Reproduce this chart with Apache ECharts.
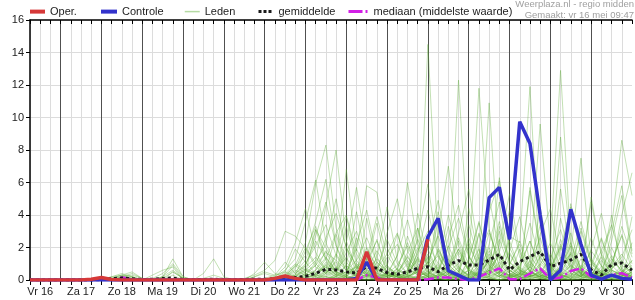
<!DOCTYPE html>
<html><head><meta charset="utf-8">
<script src="https://cdn.jsdelivr.net/npm/echarts@6/dist/echarts.min.js"></script>
<style>html,body{margin:0;padding:0;background:#fff}#c{width:635px;height:300px}</style>
</head><body><div id="c"></div>
<script>
// time steps: hours since Vr 16 00:00
const hours=[6,12,18,24,30,36,42,48,54,60,66,72,78,84,90,96,102,108,114,120,126,132,138,144,150,156,162,168,174,180,186,192,198,204,210,216,222,228,234,240,246,252,258,264,270,276,282,288,294,300,306,312,318,324,330,336,342,348,354,360];
const dayLabels=['Vr 16','Za 17','Zo 18','Ma 19','Di 20','Wo 21','Do 22','Vr 23','Za 24','Zo 25','Ma 26','Di 27','Wo 28','Do 29','Vr 30'];
const yTicks=[0,2,4,6,8,10,12,14,16];

const oper=[0,0,0,0,0,0,0.05,0.15,0.03,0,0,0, 0,0,0,0,0,0,0,0,0,0,0,0, 0.1,0.25,0.1,0,0,0,0,0,0,1.74,0,0, 0,0,0,2.5];
const controle=[0,0,0,0,0,0,0,0,0,0,0,0, 0,0,0,0,0,0,0,0,0,0,0,0, 0,0,0,0,0,0,0,0,0.1,1.1,0,0, 0,0,0,2.66,3.8,0.57,0.29,0,0,5.07,5.7,2.5, 9.74,8.4,4.0,0,0.6,4.35,2.2,0.3,0.05,0.3,0.1,0.05];
const gemiddelde=[0,0,0,0,0,0,0,0.02,0.08,0.12,0.08,0.02, 0.05,0.1,0.12,0.03,0.02,0.03,0.05,0.02,0.02,0.03,0.05,0.04, 0.08,0.15,0.15,0.22,0.41,0.66,0.62,0.5,0.42,0.82,0.72,0.45, 0.35,0.5,0.72,0.82,0.5,0.92,1.2,0.92,0.92,1.23,1.58,0.62, 1.13,1.44,1.74,0.82,1.03,1.23,1.58,0.62,0.31,0.95,1.05,0.6];
const mediaan=[0,0,0,0,0,0,0,0,0.05,0.15,0.05,0, 0,0,0,0,0,0,0,0,0,0,0,0, 0,0,0,0,0,0,0,0,0,0.3,0.15,0, 0,0,0,0.05,0.15,0.15,0.05,0,0.2,0.45,0.72,0.05, 0.05,0.4,0.72,0.05,0.15,0.55,0.72,0.2,0.05,0.3,0.42,0.15];

const lid01=[0,0,0,0,0,0,0,0,0.1,0.3,0.5,0.1, 0,0.2,1.3,0.2,0,0,0,0,0,0,0,0, 0,0.3,0.8,1.5,3.6,6.2,2.1,0.5,0.8,0.3,0,0.2, 0.5,1.2,0.4,14.5,2.0,0.6,0.2,0,0.5,1.1,0.3,0.1, 0.8,2.4,0.6,0,0.3,1.6,0.4,0,0,0.7,1.2,0.3];
const lid02=[0,0,0,0,0,0,0,0,0.2,0.4,0.2,0, 0.1,0.4,1.0,0.2,0,0,0,0,0,0.1,0.3,0.6, 1.2,3.0,2.7,1.95,0.8,0.4,1.1,0.3,0,0.9,2.5,0.4, 0.2,0,1.8,3.0,0.5,0.2,12.3,1.5,0.3,2.2,4.8,0.9, 0.4,0.2,1.5,0.3,0.8,2.9,0.6,0.2,1.4,0.3,0.1,0.5];
const lid03=[0,0,0,0,0,0,0,0.05,0.2,0.3,0.1,0, 0.3,0.6,0.8,0,0,0,0,0,0,0,0.4,1.1, 0.4,0.2,0.9,2.3,5.95,8.3,3.2,1.1,0.4,0.2,0.1,0, 0.6,0.3,0.1,0.8,1.5,0.4,0.2,0.9,11.8,3.1,0.8,0.2, 1.9,0.5,0.3,0.1,3.8,1.2,0.4,0.2,0.6,0.2,0.9,0.4];
const lid04=[0,0,0,0,0,0,0,0,0,0.1,0.2,0, 0,0,0,0,0,0.1,0.3,0.1,0,0,0,0, 0,0.1,0.3,0.6,1.2,4.6,8.0,2.4,0.7,1.6,0.5,0.9, 2.8,1.1,0.3,0.4,0.2,1.3,0.5,2.1,0.9,10.9,1.2,0.4, 0.3,0.8,2.6,0.5,0.2,0.4,3.2,1.1,0.3,0.2,0.5,0.1];
const lid05=[0,0,0,0,0,0,0,0,0.1,0.2,0.3,0.1, 0,0.2,0.6,0.1,0,0.4,1.3,0.2,0,0,0,0, 0,0,0.2,0.5,0.9,1.7,1.2,6.8,1.8,5.8,5.4,2.0, 0.6,0.3,1.4,0.7,0.3,0.8,1.9,0.5,0.2,0.6,0.4,2.7, 2.3,11.9,0.4,0.8,0.3,0.1,0.6,1.8,0.9,0.2,0.3,0.1];
const lid06=[0,0,0,0,0,0,0,0,0,0.1,0.1,0, 0,0,0.3,0,0,0,0,0,0,0,0.2,0.4, 0.2,0.6,1.3,3.6,6.15,2.3,0.8,0.2,1.0,0.4,0.1,0.3, 1.5,6.0,2.2,0.9,0.4,0.2,0.5,3.4,1.2,0.4,0.2,0.8, 0.3,1.1,9.6,2.1,12.9,2.2,0.7,0.3,0.4,0.2,0.1,0.3];
const lid07=[0,0,0,0,0,0,0,0,0,0,0.1,0, 0,0,0,0,0,0,0,0,0,0,0,0, 0,0,0,0.1,0.3,0.2,0.6,1.4,0.3,3.8,0.9,0.4, 0.2,0.1,0.7,1.9,0.5,3.3,0.8,0.2,0.1,1.4,0.6,0.3, 0.2,0.6,0.1,0,0.4,1.7,0.5,0.2,1.5,3.3,8.6,5.2];
const lid08=[0,0,0,0,0,0,0,0,0,0.2,0.1,0, 0,0,0.5,0.1,0,0,0,0,0,0,0,0.1, 0,0.2,0.1,0.4,0.2,1.0,0.5,0.3,2.6,0.7,0.2,0, 0.1,0.3,3.2,0.6,4.2,1.0,0.3,0.1,0.6,2.0,0.5,0.3, 0.8,0.3,0.2,0,0.9,1.6,7.5,1.2,0.4,0.3,0.5,1.2];
const lid09=[0,0,0,0,0,0,0,0,0,0,0,0, 0,0,0,0,0,0,0,0,0,0,0,0, 0,0,0,0.2,0.6,1.8,0.4,0.1,0.3,1.0,3.5,0.9, 0.3,0.1,0.2,0.5,0.1,0.6,2.4,0.5,0.2,0.4,1.1,0.2, 0.5,0.2,4.5,1.0,0.3,0.1,0.3,0.2,0.8,4.0,0.6,0.2];
const lid10=[0,0,0,0,0,0,0,0,0,0,0,0, 0,0,0,0,0,0,0,0,0,0,0,0, 0,0,0,0,0,0.2,0.1,0.3,0.8,0.2,0,0, 0,0.2,0.5,0.2,0,0,0.4,0.1,0.3,0.2,0,0, 0.1,0,0.3,0.1,0,0.2,0.5,0.1,0,0,0.2,0];
const lid11=[0,0,0,0,0,0,0,0,0,0,0,0, 0,0,0,0,0,0,0,0,0,0,0,0.1, 0.3,0.5,0.2,0.1,0,0.4,1.2,0.6,0.2,0.1,0.7,1.6, 2.9,0.8,0.3,0.1,0.6,0.2,0.1,1.3,3.6,0.9,0.3,0.1, 0.4,1.5,0.6,0.2,0.1,0.3,0.9,0.4,0.2,1.1,2.7,0.6];
const lid12=[0,0,0,0,0,0,0,0,0,0,0,0, 0,0,0,0,0,0,0,0,0,0,0,0, 0,0,0,0,0.1,0.2,0.1,0,0,0.3,0.2,0.1, 0,0,0.1,0.2,0.1,0,0.3,0.6,0.2,0.1,0,0.2, 0.6,0.3,0.1,0,0.1,0.4,0.2,0.1,0,0.3,0.1,0];
const lid13=[0,0,0,0,0,0,0,0,0,0,0,0, 0,0,0,0,0,0,0,0,0,0,0,0, 0,0,0.1,0.3,1.1,2.2,5.0,1.9,0.5,0.2,0.6,0.3, 0.1,0.4,1.6,4.3,1.4,0.5,0.2,0.1,0.7,5.1,1.7,0.4, 0.2,0.1,0.6,0.3,5.6,1.4,0.3,0.1,0.5,0.9,0.3,0.2];
const lid14=[0,0,0,0,0,0,0,0,0,0,0,0, 0,0,0,0,0,0,0,0,0,0,0,0, 0,0,0,0,0,0,0.2,0.5,0.2,0,0,0.1, 0.4,0.2,0,0.1,0.3,0.8,0.3,0.1,0,0.2,0.5,0.3, 0.1,0.3,1.0,0.4,0.2,0,0.1,0.3,0.2,0.6,0.3,0.1];
const lid15=[0,0,0,0,0,0,0,0,0,0,0,0, 0,0,0,0,0,0,0,0,0,0,0,0, 0.1,0.4,1.0,0.6,0.3,0.8,0.4,2.0,0.9,0.3,1.4,4.5, 1.2,0.4,2.6,5.9,1.6,0.4,0.2,4.4,1.3,0.3,6.3,1.6, 0.5,0.2,0.1,0.7,2.0,0.6,0.2,4.8,1.5,0.4,0.2,0.5];
const lid16=[0,0,0,0,0,0,0,0,0,0,0,0, 0,0,0,0,0,0,0,0,0,0,0,0, 0,0,0,0,0,0,0,0.1,0.3,0.1,0,0, 0,0,0,0.2,0.1,0,0,0.3,0.5,0.2,0,0.1, 0,0.2,0.4,0.1,0,0,0.2,0.1,0,0.1,0.4,0.2];
const lid17=[0,0,0,0,0,0,0,0,0,0,0,0, 0,0,0,0,0,0,0,0,0,0,0,0, 0,0,0.3,0.9,2.4,1.3,0.5,0.2,0.1,0.6,0.3,0.2, 0.7,2.3,0.8,0.3,0.1,0.6,1.7,0.6,2.9,0.8,0.3,0.2, 0.2,0.8,0.3,0.1,8.8,1.9,0.5,0.4,0.2,0.7,1.4,3.1];
const lid18=[0,0,0,0,0,0,0,0,0,0,0,0, 0,0,0,0,0,0,0,0,0,0,0,0, 0,0,0,0,0,0.1,0.3,0.2,0,0,0.1,0.3, 0.2,0,0.1,0.6,0.2,0.1,0,0,0.2,0.6,0.2,0, 0.1,0.4,0.2,0,0,0.3,0.6,0.2,0.1,0,0,0.1];
const lid19=[0,0,0,0,0,0,0,0,0,0,0,0, 0,0,0,0,0,0,0,0,0,0,0,0, 0,0.1,0.2,0.8,1.4,0.6,2.8,0.9,4.2,1.2,0.4,0.2, 0.3,0.2,0.5,1.1,2.8,7.0,2.1,0.6,0.3,1.8,0.7,0.2, 0.3,5.5,1.8,0.4,0.2,0.9,0.4,0.1,0.3,1.3,0.6,0.2];
const lid20=[0,0,0,0,0,0,0,0,0,0,0,0, 0,0,0,0,0,0,0,0,0,0,0,0, 0,0,0,0,0.2,0.5,0.2,0.1,0,0.4,1.3,0.5, 0.2,0.1,0,0.4,0.9,0.3,0.1,0,0.5,1.6,0.4,0.1, 0.4,1.2,0.3,0.1,0,0.6,0.2,0.8,2.5,0.6,0.3,0.1];
const lid21=[0,0,0,0,0,0,0,0,0,0,0,0, 0,0,0,0,0,0,0,0,0,0,0,0, 0,0,0,0.1,0.4,0.9,0.3,0.5,1.9,0.6,0.2,0.4, 0.9,2.1,0.7,0.3,0.2,0.5,1.0,2.3,0.7,0.3,0.1,0.6, 0.2,0.5,1.8,0.6,0.3,0.2,1.3,0.5,0.2,0.1,0.4,1.2];
const lid22=[0,0,0,0,0,0,0,0,0,0,0,0, 0,0,0,0,0,0,0,0,0,0,0,0, 0,0,0,0,0,0,0,0,0,0,0.2,0.4, 0.2,0,0.3,0.1,0,0.4,0.2,0.1,0,0.3,0.9,0.4, 0.1,0.2,0.5,0.2,0.1,0,0.3,0.6,0.3,0.1,0,0.3];
const lid23=[0,0,0,0,0,0,0,0,0,0,0,0, 0,0,0,0,0,0,0,0,0,0,0,0, 0,0,0,0,0.1,0.3,0.8,0.4,0.6,1.5,0.7,0.3, 0.2,0.5,4.1,1.2,0.4,0.2,0.1,0.6,1.9,0.5,3.0,1.0, 2.2,0.6,0.2,0.1,0.8,2.3,0.7,0.3,0.1,0.5,4.0,6.6];
const lid24=[0,0,0,0,0,0,0,0,0,0,0,0, 0,0,0,0,0,0,0,0,0,0,0,0, 0,0,0,0,0,0,0.1,0,0,0.2,0.5,0.2, 0,0.1,0.2,0,0.3,0.1,0,0.2,0.4,0.1,0,0, 0.2,0,0.1,0.3,0.1,0,0,0.4,0.2,0,0.1,0];
const lid25=[0,0,0,0,0,0,0,0,0,0,0,0, 0,0,0,0,0,0,0,0,0,0,0,0, 0,0,0.2,0.6,0.3,1.1,0.5,3.3,1.0,0.4,0.2,0.1, 0.5,1.4,0.6,0.2,1.8,0.6,0.3,0.1,0.4,1.2,3.6,1.1, 0.6,0.3,0.2,1.6,0.4,0.1,0.7,2.6,0.8,0.3,0.2,0.5];
const lid26=[0,0,0,0,0,0,0,0,0,0,0,0, 0,0,0,0,0,0,0,0,0,0,0,0, 0,0,0,0,0,0,0,0.2,0.1,0,0,0, 0.1,0,0,0.3,0.1,0,0.2,0.1,0,0,0.3,0.1, 0,0.1,0.2,0,0,0.1,0,0,0.2,0.1,0,0];
const lid27=[0,0,0,0,0,0,0,0,0,0,0,0, 0,0,0,0,0,0,0,0,0,0,0,0, 0,0.2,0.5,1.2,3.1,2.0,0.7,0.3,2.2,4.3,1.4,0.5, 0.2,0.6,2.5,1.0,0.3,2.6,4.6,1.5,0.5,0.2,2.2,5.3, 1.7,0.5,0.2,0.4,1.4,0.5,2.1,0.7,0.3,2.4,5.2,1.6];
const lid28=[0,0,0,0,0,0,0,0,0,0,0,0, 0,0,0,0,0,0,0,0,0,0,0,0, 0,0,0,0,0,0.1,0.2,0,0.1,0.3,0.1,0, 0,0.2,0.6,0.2,0.1,0,0.1,0.4,0.2,0.1,0,0.3, 0.1,0.2,0.1,0,0.3,0.6,0.2,0,0.1,0.2,0.3,0.1];
const lid29=[0,0,0,0,0,0,0,0,0,0,0,0, 0,0,0,0,0,0,0,0,0,0,0,0, 0,0.1,0.4,1.0,2.1,3.4,1.5,0.6,1.2,2.6,1.1,0.4, 0.3,1.7,3.2,1.0,0.5,2.0,3.8,1.4,0.6,2.9,1.3,0.5, 1.1,3.5,1.2,0.4,2.1,0.8,0.3,1.9,4.1,1.3,0.5,0.9];
const lid30=[0,0,0,0,0,0,0,0,0,0,0,0, 0,0,0,0,0,0,0,0,0,0,0,0, 0,0,0.2,0.7,0.4,1.3,2.9,4.0,1.6,0.5,0.2,1.4, 2.2,0.7,0.3,1.1,2.7,0.9,0.4,0.2,1.6,3.1,0.8,2.4, 0.6,0.3,2.8,4.4,1.2,0.4,0.2,1.0,2.6,0.8,3.3,1.4];
const lid31=[0,0,0,0,0,0,0,0,0,0,0,0, 0,0,0,0,0,0,0,0,0,0,0,0, 0.1,0.5,1.9,1.1,0.4,0.9,0.3,1.7,3.0,1.2,2.4,0.8, 0.4,0.2,0.6,2.2,1.0,4.0,1.5,0.6,2.8,0.9,0.4,1.8, 3.9,1.1,0.5,0.2,0.7,2.1,0.6,0.3,1.2,0.5,0.2,2.3];
const lid32=[0,0,0,0,0,0,0,0,0,0,0,0, 0,0,0,0,0,0,0,0,0,0,0,0, 0,0,0,0.3,0.9,2.6,4.1,2.0,0.8,0.3,0.6,2.5, 1.0,0.4,1.3,0.5,0.2,0.8,2.9,5.6,1.8,0.7,1.5,0.6, 0.2,0.8,3.4,1.1,0.4,4.7,1.6,0.5,0.2,1.0,2.8,1.0];
const lid33=[0,0,0,0,0,0,0,0,0.1,0.3,0.2,0, 0,0,0,0,0,0,0,0,0,0,0,0, 0,0.2,0.6,0.3,0.1,0.5,1.6,0.7,0.2,1.3,3.9,1.5, 0.6,2.7,1.0,0.3,0.8,0.3,0.1,1.2,3.5,1.3,0.4,0.2, 0.9,2.4,0.8,0.3,0.1,0.6,3.0,1.0,0.4,0.2,0.7,0.3];
const lid34=[0,0,0,0,0,0,0,0,0,0,0,0, 0,0,0,0,0,0,0,0,0,0,0,0, 0.2,0.8,2.3,4.4,1.7,0.6,0.3,0.9,0.4,0.2,1.1,0.5, 0.3,1.5,0.5,2.2,4.9,1.7,0.6,0.3,0.9,4.2,6.1,2.0, 0.7,0.3,1.4,0.5,2.5,0.9,0.4,5.1,1.6,0.6,0.3,0.8];
const lid35=[0,0,0,0,0,0,0,0,0,0,0,0, 0,0,0,0,0,0,0,0,0,0,0,0, 0,0,0.1,0.2,0.6,1.4,0.5,0.2,0.7,2.0,0.8,0.3, 0.1,0.4,1.2,0.4,0.2,0.6,1.9,0.7,0.3,0.1,0.5,1.7, 0.6,0.2,0.9,2.3,0.8,0.3,0.1,0.6,1.8,3.4,1.1,0.4];
const lid36=[0,0,0,0,0,0,0,0,0,0,0,0, 0,0.2,0.9,0.1,0,0,0,0,0,0,0,0, 0,0.3,0.9,0.4,3.1,1.2,0.4,0.2,0.9,0.3,0.1,0.4, 1.5,3.7,1.3,0.5,0.2,0.7,0.3,2.6,1.0,0.3,3.3,1.1, 0.4,0.2,0.5,1.3,3.1,1.0,0.4,0.2,0.6,2.0,0.7,3.9];
const lid37=[0,0,0,0,0,0,0,0,0,0,0,0, 0,0,0,0,0,0,0,0,0,0,0,0, 0,0,0,0.1,0.3,0.8,0.3,0.1,0.4,0.9,0.4,0.2, 0.7,0.3,0.1,0.3,1.0,0.4,0.2,0.6,0.3,1.2,0.5,0.2, 0.1,0.5,0.2,0.8,0.3,0.1,0.4,1.3,0.5,0.2,0.1,0.4];
const lid38=[0,0,0,0,0,0,0,0,0,0,0,0, 0,0.1,0.5,0.1,0,0,0,0,0,0,0,0, 0,0.1,0.3,1.8,3.3,1.4,0.6,2.3,5.7,1.9,0.7,0.3, 0.1,0.6,2.0,0.8,3.6,1.2,0.5,0.2,0.8,0.3,1.7,4.3, 1.4,0.5,0.2,0.6,2.2,0.7,0.2,0.8,0.4,2.9,5.8,1.8];
const lid39=[0,0,0,0,0,0,0,0,0,0,0,0, 0,0,0,0,0,0,0,0,0,0,0,0, 0,0,0.1,0.4,0.2,0.6,0.2,0.9,0.3,0.6,1.8,0.7, 0.3,0.1,0.5,1.4,0.5,0.2,0.8,0.3,0.1,0.5,1.6,0.6, 0.2,1.0,0.4,0.1,0.3,0.9,0.3,0.1,0.5,0.2,0.6,0.2];
const lid40=[0,0,0,0,0,0,0,0,0,0,0,0, 0,0,0,0,0,0,0,0,0,0,0.2,0.5, 0.3,1.1,0.4,0.9,2.7,4.8,2.1,0.8,0.3,0.9,0.4,2.9, 5.0,1.8,0.6,0.2,1.9,0.7,2.6,0.9,0.3,0.7,2.5,0.8, 0.3,5.7,2.0,0.7,0.3,1.1,3.6,1.2,0.4,1.5,0.5,0.2];
const lid41=[0,0,0,0,0,0,0,0,0,0,0,0, 0,0,0,0,0,0,0,0,0,0,0,0, 0,0,0,0,0.1,0.4,0.1,0,0.2,0.5,0.2,0.1, 0,0.3,0.7,0.2,0.1,0.4,0.1,0,0.3,0.6,0.2,0.1, 0.4,0.1,0,0.2,0.5,0.2,0.1,0,0.3,0.1,0,0.2];
const lid42=[0,0,0,0,0,0,0,0,0,0.2,0.4,0.1, 0,0,0,0,0,0,0,0,0,0,0,0, 0,0.2,0.7,2.0,1.0,0.4,1.5,3.9,1.2,0.4,0.2,0.8, 0.3,1.0,0.4,1.6,0.6,2.1,0.7,0.3,1.4,0.5,0.2,0.9, 2.4,0.8,0.3,0.1,1.9,4.5,1.5,0.5,0.2,0.8,1.6,0.6];
const leden=[lid01,lid02,lid03,lid04,lid05,lid06,lid07,lid08,lid09,lid10,lid11,lid12,lid13,lid14,lid15,lid16,lid17,lid18,lid19,lid20,lid21,lid22,lid23,lid24,lid25,lid26,lid27,lid28,lid29,lid30,lid31,lid32,lid33,lid34,lid35,lid36,lid37,lid38,lid39,lid40,lid41,lid42];

const FONT='"Liberation Sans", Arial, sans-serif';
function pairs(vals){return vals.map((v,i)=>[hours[i],v]);}

const series=[];
leden.forEach(function(m){
  series.push({name:'Leden',type:'line',data:pairs(m),symbol:'none',silent:true,z:1,
    lineStyle:{color:'#5fae38',width:1,opacity:0.38},itemStyle:{color:'#a9d495'}});
});
series.push({name:'mediaan (middelste waarde)',type:'line',data:pairs(mediaan),symbol:'none',z:3,
  lineStyle:{color:'#d21fe6',width:2.5,type:[10,3,2,3]},itemStyle:{color:'#d21fe6'}});
series.push({name:'gemiddelde',type:'line',data:pairs(gemiddelde),symbol:'none',z:4,
  lineStyle:{color:'#1a1a1a',width:3,type:[3,3]},itemStyle:{color:'#1a1a1a'}});
series.push({name:'Controle',type:'line',data:pairs(controle),symbol:'none',z:5,
  lineStyle:{color:'#3333cc',width:3.5},itemStyle:{color:'#3333cc'}});
series.push({name:'Oper.',type:'line',data:pairs(oper),symbol:'none',z:6,
  lineStyle:{color:'#d63838',width:3.5},itemStyle:{color:'#d63838'}});

function lg(name,left,w,ls){
  return {data:[name],left:left,top:6,itemWidth:w,itemHeight:14,selectedMode:false,padding:0,
    itemStyle:{opacity:0},lineStyle:ls,
    textStyle:{fontFamily:FONT,fontSize:11,color:'#222'}};
}

const chart=echarts.init(document.getElementById('c'),null,{renderer:'canvas'});
chart.setOption({
  animation:false,
  backgroundColor:'#fff',
  grid:{left:30,right:1,top:20,bottom:20,containLabel:false},
  legend:[
    lg('Oper.',28,15,{width:4,color:'#d63838',opacity:1}),
    lg('Controle',99,16,{width:4,color:'#3333cc',opacity:1}),
    lg('Leden',184,15,{width:1.5,color:'#b5dba3',opacity:1}),
    lg('gemiddelde',257,15,{width:3,color:'#1a1a1a',type:[3,2],opacity:1}),
    lg('mediaan (middelste waarde)',347,20,{width:3,color:'#d21fe6',type:[14,3,2,3],opacity:1})
  ],
  graphic:[
    {type:'text',right:1,top:-1,style:{text:'Weerplaza.nl - regio midden',fill:'#a0a0a0',font:'9.5px '+FONT}},
    {type:'text',right:1,top:10,style:{text:'Gemaakt: vr 16 mei 09:47',fill:'#a0a0a0',font:'9.5px '+FONT}}
  ],
  xAxis:[{
    type:'value',min:6,max:360,interval:6,position:'bottom',
    axisLine:{show:true,onZero:false,lineStyle:{color:'#000',width:2}},
    axisTick:{show:true,length:5,lineStyle:{color:'#000'}},
    axisLabel:{margin:6,fontFamily:FONT,fontSize:11,color:'#222',showMinLabel:true,showMaxLabel:true,
      formatter:function(v){const k=(v-12)/24;return (Number.isInteger(k)&&dayLabels[k])?dayLabels[k]:'';}},
    splitLine:{show:true,showMaxLine:false,lineStyle:{color:['#dcdcdc','#dcdcdc','#dcdcdc','#505050'],width:1}}
  },{
    type:'value',min:6,max:360,interval:6,position:'top',
    axisLine:{show:true,onZero:false,lineStyle:{color:'#000',width:1.5}},
    axisTick:{show:true,inside:true,length:4,lineStyle:{color:'#000'}},
    axisLabel:{show:false},splitLine:{show:false}
  }],
  yAxis:{
    type:'value',min:yTicks[0],max:yTicks[yTicks.length-1],interval:2,
    axisLine:{show:true,lineStyle:{color:'#000',width:1.5}},
    axisTick:{show:true,length:4,lineStyle:{color:'#000'}},
    axisLabel:{margin:6,fontFamily:FONT,fontSize:11,color:'#222'},
    splitLine:{show:true,lineStyle:{color:'#dcdcdc',width:1}}
  },
  series:series
});
</script></body></html>
